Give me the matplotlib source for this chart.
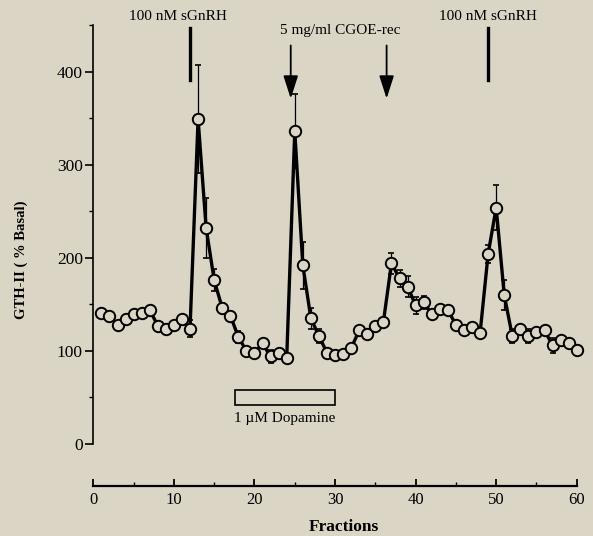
import matplotlib
matplotlib.use('Agg')
import matplotlib.pyplot as plt
from matplotlib.patches import Rectangle
from matplotlib.ticker import MultipleLocator

# ------------------------------------------------------------------------------------------
# GTH-II release (% basal) per fraction, mean and SEM
fractions = list(range(1, 61))
gth = [141, 138, 128, 134, 140, 141, 144, 127, 123, 128,
       134, 124, 349, 232, 176, 146, 138, 115, 100, 98,
       108, 94, 98, 92, 336, 192, 135, 116, 98, 96,
       97, 103, 122, 118, 127, 131, 194, 178, 169, 149,
       152, 140, 145, 144, 128, 122, 126, 119, 204, 254,
       160, 116, 124, 116, 120, 122, 106, 112, 108, 101]
sem = [3, 3, 3, 3, 3, 3, 3, 3, 3, 3,
       3, 9, 58, 32, 12, 5, 4, 6, 4, 3,
       3, 7, 3, 4, 40, 25, 11, 7, 3, 3,
       3, 3, 5, 3, 3, 3, 11, 9, 11, 9,
       7, 3, 3, 3, 3, 3, 3, 3, 10, 24,
       16, 7, 4, 7, 3, 3, 8, 3, 3, 3]

# Treatments
gnrh_fractions = [12, 49]
gnrh_label = '100 nM sGnRH'
cgoe_fractions = [24.5, 36.4]
cgoe_label = '5 mg/ml CGOE-rec'
dopamine_span = [17.6, 30]
dopamine_label = '1 \u00b5M Dopamine'
# ------------------------------------------------------------------------------------------

bg = '#dad5c4'
plt.rcParams['font.family'] = ['Liberation Serif', 'DejaVu Serif']

fig = plt.figure(figsize=(5.93, 5.36), dpi=100, facecolor=bg)
ax = fig.add_axes([0.1574, 0.1716, 0.8152, 0.7817])
ax.set_facecolor(bg)

# Error bars first, then the line with open circles
ax.errorbar(fractions, gth, yerr=sem, fmt='none', ecolor='black',
            elinewidth=0.9, capsize=2.5, capthick=1.2, zorder=2, clip_on=False)
ax.plot(fractions, gth, '-o', color='black', lw=2.4, markersize=8.2,
        markerfacecolor=bg, markeredgecolor='black', markeredgewidth=1.4,
        zorder=3, clip_on=False)

# sGnRH pulses
for f in gnrh_fractions:
    ax.plot([f, f], [391, 447], color='black', lw=2.4, clip_on=False)
    ax.text(f - 1.5 if f < 20 else f, 459, gnrh_label, ha='center', va='center',
            fontsize=11)

# CGOE-rec arrows
for f in cgoe_fractions:
    ax.annotate('', xy=(f, 371), xytext=(f, 428),
                arrowprops=dict(arrowstyle='-|>,head_length=1.4,head_width=0.45',
                                lw=1.3, color='black', shrinkA=0, shrinkB=0),
                annotation_clip=False)
ax.text(30.7, 444, cgoe_label, ha='center', va='center', fontsize=11)

# Dopamine bar
ax.add_patch(Rectangle((dopamine_span[0], 42), dopamine_span[1] - dopamine_span[0], 16,
                       fill=False, edgecolor='black', lw=1.2))
ax.text(sum(dopamine_span) / 2, 27, dopamine_label, ha='center', va='center', fontsize=11)

# Axes
ax.set_xlim(0, 60)
ax.set_ylim(0, 450)
ax.spines['top'].set_visible(False)
ax.spines['right'].set_visible(False)
ax.spines['bottom'].set_position(('outward', 42 * 72 / 100))
ax.spines['left'].set_linewidth(1.2)
ax.spines['bottom'].set_linewidth(1.6)

ax.set_yticks([0, 100, 200, 300, 400])
ax.yaxis.set_minor_locator(MultipleLocator(50))
ax.xaxis.set_major_locator(MultipleLocator(10))
ax.xaxis.set_minor_locator(MultipleLocator(5))
ax.tick_params(axis='y', which='major', direction='out', length=6, width=1.2,
               labelsize=12.5, pad=1.5)
ax.tick_params(axis='y', which='minor', direction='out', length=3, width=1)
ax.tick_params(axis='x', which='major', direction='in', length=5, width=1.3,
               labelsize=12, pad=4)
ax.tick_params(axis='x', which='minor', direction='in', length=3, width=1)

fig.text(343.5 / 593, 1 - 527 / 536, 'Fractions', ha='center', va='center',
         fontsize=12.5, fontweight='bold')
fig.text(21 / 593, 1 - 260 / 536, 'GTH-II ( % Basal)', ha='center', va='center',
         rotation=90, fontsize=10.5, fontweight='bold')

fig.savefig('out.png', dpi=100, facecolor=bg)
